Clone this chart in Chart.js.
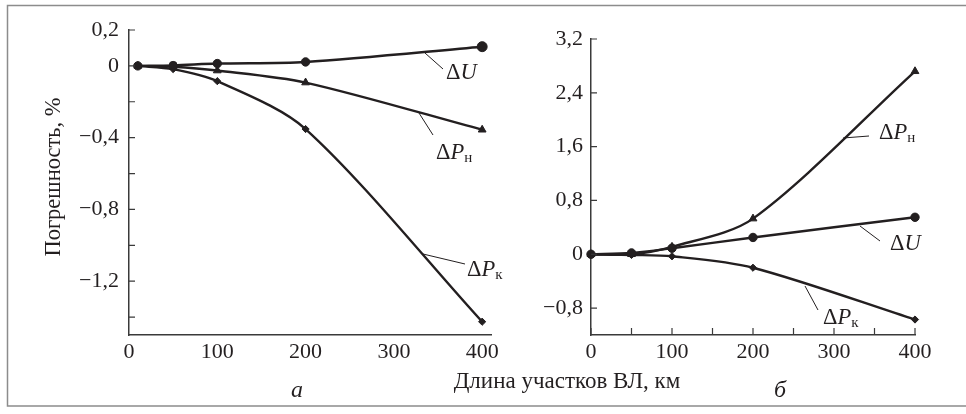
<!DOCTYPE html>
<html><head><meta charset="utf-8">
<script src="https://cdn.jsdelivr.net/npm/chart.js@4.4.1/dist/chart.umd.min.js"></script>
<style>
html,body{margin:0;padding:0;background:#fff;}
#wrap{position:relative;width:966px;height:414px;overflow:hidden;background:#fff;}
canvas{position:absolute;top:0;}
#cL{left:0;width:510px;height:414px;}
#cR{left:520px;width:446px;height:414px;}
svg{position:absolute;left:0;top:0;}
svg text{font-family:"Liberation Serif","Times New Roman",serif;fill:#231f20;}
</style></head><body>
<div id="wrap">
<canvas id="cL" width="510" height="414"></canvas>
<canvas id="cR" width="446" height="414"></canvas>
<svg width="966" height="414" viewBox="0 0 966 414">
  <path d="M970,5.5 H7.5 V406 H970" fill="none" stroke="#8c8c8c" stroke-width="1.5"/>
  <g stroke="#231f20" stroke-width="1" fill="none">
    <line x1="425" y1="53" x2="443" y2="69"/>
    <line x1="419" y1="113" x2="433" y2="135"/>
    <line x1="423" y1="254" x2="465" y2="264"/>
    <line x1="843" y1="138" x2="869" y2="136"/>
    <line x1="860" y1="226" x2="880" y2="241"/>
    <line x1="805" y1="286" x2="818" y2="310"/>
  </g>
  <g font-size="22.5">
    <text x="446" y="79">Δ<tspan font-style="italic">U</tspan></text>
    <text x="436" y="159">Δ<tspan font-style="italic">P</tspan><tspan font-size="15" dy="3">н</tspan></text>
    <text x="467" y="276">Δ<tspan font-style="italic">P</tspan><tspan font-size="15" dy="3">к</tspan></text>
    <text x="879" y="139">Δ<tspan font-style="italic">P</tspan><tspan font-size="15" dy="3">н</tspan></text>
    <text x="890" y="250">Δ<tspan font-style="italic">U</tspan></text>
    <text x="823" y="324">Δ<tspan font-style="italic">P</tspan><tspan font-size="15" dy="3">к</tspan></text>
  </g>
  <text transform="translate(60,177) rotate(-90)" text-anchor="middle" font-size="22.5">Погрешность, %</text>
  <text x="567" y="388" text-anchor="middle" font-size="23">Длина участков ВЛ, км</text>
  <text x="297" y="397" text-anchor="middle" font-size="24" font-style="italic">а</text>
  <text x="780" y="397" text-anchor="middle" font-size="24" font-style="italic">б</text>
</svg>
</div>
<script>
// ---- data ----
const lengthsA = [10, 50, 100, 200, 400];
const dU_A  = [0, 0.003, 0.013, 0.022, 0.107];
const dPn_A = [0, -0.005, -0.026, -0.093, -0.356];
const dPk_A = [0, -0.018, -0.085, -0.352, -1.426];

const lengthsB = [0, 50, 100, 200, 400];
const dU_B  = [0, 0.02, 0.09, 0.25, 0.55];
const dPn_B = [0, 0.0, 0.11, 0.53, 2.72];
const dPk_B = [0, -0.01, -0.03, -0.2, -0.97];

const xLabelsA = [0, 100, 200, 300, 400];
const yTicksA  = [-1.4, -1.2, -1.0, -0.8, -0.6, -0.4, -0.2, 0, 0.2];
const yLabelsA = [0.2, 0, -0.4, -0.8, -1.2];

const xTicksB  = [0, 50, 100, 150, 200, 250, 300, 350, 400];
const xLabelsB = [0, 100, 200, 300, 400];
const yTicksB  = [-0.8, 0, 0.8, 1.6, 2.4, 3.2];
const yLabelsB = [-0.8, 0, 0.8, 1.6, 2.4, 3.2];

// ---- helpers ----
const INK = '#231f20';
const AXIS = '#3a3a3a';
const FONT = {family: '"Liberation Serif", "Times New Roman", serif', size: 22};
const fmtY = v => { const r = Math.round(v*10)/10; if (r === 0) return '0'; return (r < 0 ? '\u2212' : '') + Math.abs(r).toFixed(1).replace('.', ','); };
const fmtX = v => String(Math.round(v));
const pts = (xs, ys) => xs.map((x, i) => ({x, y: ys[i]}));

const inTicks = {
  id: 'inTicks',
  afterDraw(chart, args, o) {
    const {ctx, chartArea: a, scales: {x, y}} = chart;
    ctx.save();
    ctx.strokeStyle = AXIS; ctx.lineWidth = 1.2;
    ctx.beginPath();
    (o.y || []).forEach(v => { const p = y.getPixelForValue(v); ctx.moveTo(a.left, p); ctx.lineTo(a.left + 6, p); });
    (o.x || []).forEach(v => { const p = x.getPixelForValue(v); ctx.moveTo(p, a.bottom); ctx.lineTo(p, a.bottom - 7); });
    ctx.stroke();
    ctx.restore();
  }
};

function ds(data, style, radius) {
  return {
    data, borderColor: INK, backgroundColor: INK, borderWidth: 2.4,
    pointStyle: style, pointRadius: radius, pointHoverRadius: radius,
    pointBorderWidth: 1, pointBorderColor: INK, pointBackgroundColor: INK,
    tension: 0.3, clip: false, fill: false
  };
}

function makeChart(id, cfg) {
  return new Chart(document.getElementById(id), {
    type: 'line',
    data: {datasets: cfg.datasets},
    options: {
      responsive: false, animation: false, devicePixelRatio: 1,
      layout: {autoPadding: false, padding: cfg.padding},
      plugins: {legend: {display: false}, tooltip: {enabled: false}, inTicks: {x: cfg.xTickMarks, y: cfg.yTickMarks}},
      scales: {
        x: {
          type: 'linear', min: cfg.xmin, max: cfg.xmax,
          grid: {display: false, drawTicks: false},
          border: {display: true, color: AXIS, width: 1.5},
          afterBuildTicks: s => { s.ticks = cfg.xLabels.map(v => ({value: v})); },
          afterFit: s => { s.height = 30; },
          ticks: {font: FONT, color: INK, padding: 4, maxRotation: 0, autoSkip: false, callback: v => fmtX(v)}
        },
        y: {
          type: 'linear', min: cfg.ymin, max: cfg.ymax,
          grid: {display: false, drawTicks: false},
          border: {display: true, color: AXIS, width: 1.5},
          afterBuildTicks: s => { s.ticks = cfg.yLabels.map(v => ({value: v})); },
          afterFit: s => { s.width = cfg.yWidth; },
          ticks: {font: FONT, color: INK, padding: cfg.yPad, autoSkip: false, callback: v => fmtY(v)}
        }
      }
    },
    plugins: [inTicks]
  });
}

makeChart('cL', {
  datasets: [
    ds(pts(lengthsA, dU_A), 'circle', [4.2, 4, 4.2, 4.2, 5]),
    ds(pts(lengthsA, dPn_A), 'triangle', 4.5),
    ds(pts(lengthsA, dPk_A), 'rectRot', 3.6)
  ],
  padding: {left: 0, top: 30, right: 19, bottom: 49},
  yWidth: 129, yPad: 10, xmin: 0, xmax: 410, ymin: -1.5, ymax: 0.2,
  xLabels: xLabelsA, yLabels: yLabelsA, xTickMarks: [], yTickMarks: yTicksA
});

makeChart('cR', {
  datasets: [
    ds(pts(lengthsB, dU_B), 'circle', 4.2),
    ds(pts(lengthsB, dPn_B), 'triangle', 4.5),
    ds(pts(lengthsB, dPk_B), 'rectRot', 3.6)
  ],
  padding: {left: 0, top: 39, right: 51, bottom: 49},
  yWidth: 71, yPad: 8, xmin: 0, xmax: 400, ymin: -1.2, ymax: 3.2,
  xLabels: xLabelsB, yLabels: yLabelsB, xTickMarks: xTicksB, yTickMarks: yTicksB
});
</script>
</body></html>
